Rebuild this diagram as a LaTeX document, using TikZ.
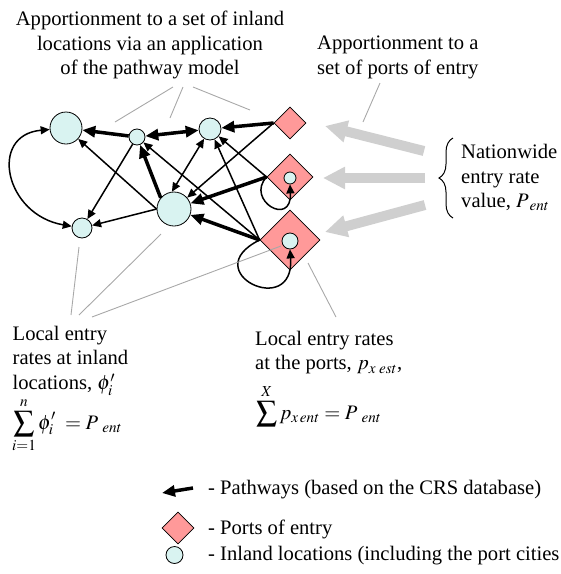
\documentclass[tikz,border=0pt]{standalone}
\usepackage{mathptmx}
\usepackage{fontspec}
\setmainfont{Liberation Serif}
\usetikzlibrary{arrows.meta,shapes.geometric,decorations.pathreplacing}
\definecolor{inlandfill}{HTML}{D9F3F1}
\definecolor{portfill}{HTML}{FF9999}
\definecolor{notegray}{HTML}{A8A8A8}
\definecolor{arrowgray}{HTML}{CFCFCF}
\begin{document}
\begin{tikzpicture}[x=1pt,y=-1pt,
  inl/.style={circle,draw=black,line width=0.8pt,fill=inlandfill,inner sep=0pt},
  port/.style={diamond,draw=black,line width=0.8pt,fill=portfill,inner sep=0pt,aspect=1},
  pth/.style={line width=1.5pt,-{Triangle[length=9pt,width=8pt]}},
  pthb/.style={line width=1.5pt,{Triangle[length=9pt,width=8pt]}-{Triangle[length=9pt,width=8pt]}},
  hvy/.style={line width=3.5pt,-{Triangle[length=13pt,width=11pt]}},
  hvyb/.style={line width=3.5pt,{Triangle[length=13pt,width=11pt]}-{Triangle[length=13pt,width=11pt]}},
  note/.style={draw=notegray,line width=0.9pt},
  bigarrow/.style={draw=arrowgray,line width=10pt,-{Triangle[length=22pt,width=21pt]}},
  lbl/.style={font=\fontsize{20.6}{24.5}\selectfont,inner sep=0pt,align=left}
]
\useasboundingbox (0,0) rectangle (561,574);
% network nodes
\node[inl,minimum size=32pt] (A) at (66,128) {};
\node[inl,minimum size=16pt] (B) at (137,137) {};
\node[inl,minimum size=22pt] (C) at (210,129) {};
\node[inl,minimum size=20pt] (D) at (82,228) {};
\node[inl,minimum size=34pt] (E) at (174,209) {};
\node[port,minimum size=32pt] (P1) at (290,123) {};
\node[port,minimum size=46pt] (P2) at (290,177) {};
\node[port,minimum size=60pt] (P3) at (290,240) {};
\node[inl,minimum size=12pt] (p2in) at (290,178) {};
\node[inl,minimum size=16pt] (p3in) at (290,241) {};
% pathways
\draw[hvy] (B) -- (A);
\draw[hvyb] (B) -- (C);
\draw[hvy] (P1.west) -- (C);
\draw[pth] (P1.west) -- (E);
\draw[pthb] (A) .. controls (-12,135) and (5,215) .. (D);
\draw[pth] (B) -- (D);
\draw[pth] (E.west) -- (A);
\draw[pth] (E.west) -- (D);
\draw[hvy] (E.140) -- (B);
\draw[pthb] (E.97) -- (C);
\draw[pth] (P3.west) -- (B);
\draw[pth] (P3.west) -- (C);
\draw[pth] (P2.west) -- (C);
\draw[hvy] (P2.west) -- (E);
\draw[hvy] (P3.west) -- (E);
\draw[pth] (P2.west) .. controls (245,200) and (292,228) .. (p2in.south);
\draw[pth] (P3.west) .. controls (195,272) and (295,320) .. (p3in.south);
% gray block arrows
\coordinate (ga1s) at (424,151); \coordinate (ga1e) at (325,126);
\coordinate (ga2s) at (425,178); \coordinate (ga2e) at (323,178);
\coordinate (ga3s) at (425,205); \coordinate (ga3e) at (325,232);
\draw[bigarrow] (ga1s) -- (ga1e);
\draw[bigarrow] (ga2s) -- (ga2e);
\draw[bigarrow] (ga3s) -- (ga3e);
% brace
\coordinate (brb) at (453,218); \coordinate (brt) at (453,138);
\draw[decorate,decoration={brace,amplitude=14pt},line width=1pt] (brb) -- (brt);
% texts
\node[lbl,anchor=north,align=center] (t1) at (150,11) {Apportionment to a set of inland\\locations via an application\\of the pathway model};
\node[lbl,anchor=north west] (t2) at (317,36) {Apportionment to a\\set of ports of entry};
\node[lbl,anchor=north west] (t3) at (461,144.3) {Nationwide\\entry rate\\value, $P_{\;ent}$};
\node[lbl,anchor=north west] (t4) at (12.5,326) {Local entry\\rates at inland\\locations, $\phi'_i$};
\node[lbl,anchor=base west] (f1) at (12,429) {$\displaystyle\sum_{i=1}^{n}\phi'_i\;=P_{\;\;ent}$};
\node[lbl,anchor=north west] (t5) at (255,331) {Local entry rates\\at the ports, $p_{x\;est}$,};
\node[lbl,anchor=base west] (f2) at (256,419) {$\displaystyle\sum^{X}p_{x\,ent}=P_{\;\;ent}$};
% annotation lines
\coordinate (n1a) at (173,87); \coordinate (n1b) at (115,122);
\coordinate (n2a) at (183,87); \coordinate (n2b) at (170,118);
\coordinate (n3a) at (193,87); \coordinate (n3b) at (250,110);
\coordinate (n4a) at (380,83); \coordinate (n4b) at (363,122);
\coordinate (n5a) at (79,247); \coordinate (n5b) at (71,315);
\coordinate (n6a) at (161,234); \coordinate (n6b) at (79,315);
\coordinate (n7a) at (281,246); \coordinate (n7b) at (92,317);
\coordinate (n8a) at (308,263); \coordinate (n8b) at (336,317);
\draw[note] (n1a) -- (n1b);
\draw[note] (n2a) -- (n2b);
\draw[note] (n3a) -- (n3b);
\draw[note] (n4a) -- (n4b);
\draw[note] (n5a) -- (n5b);
\draw[note] (n6a) -- (n6b);
\draw[note] (n7a) -- (n7b);
\draw[note] (n8a) -- (n8b);
% legend
\coordinate (lgt) at (193,488); \coordinate (lgh) at (162,493);
\draw[hvy] (lgt) -- (lgh);
\node[port,minimum size=32pt] (lgp) at (178,528) {};
\node[inl,minimum size=17pt] (lgc) at (174.5,555) {};
\node[lbl,anchor=base west] (lg1) at (208,494.5) {- Pathways (based on the CRS database)};
\node[lbl,anchor=base west] (lg2) at (208,534.5) {- Ports of entry};
\node[lbl,anchor=base west] (lg3) at (208,560.5) {- Inland locations (including the port cities};
\end{tikzpicture}
\end{document}
